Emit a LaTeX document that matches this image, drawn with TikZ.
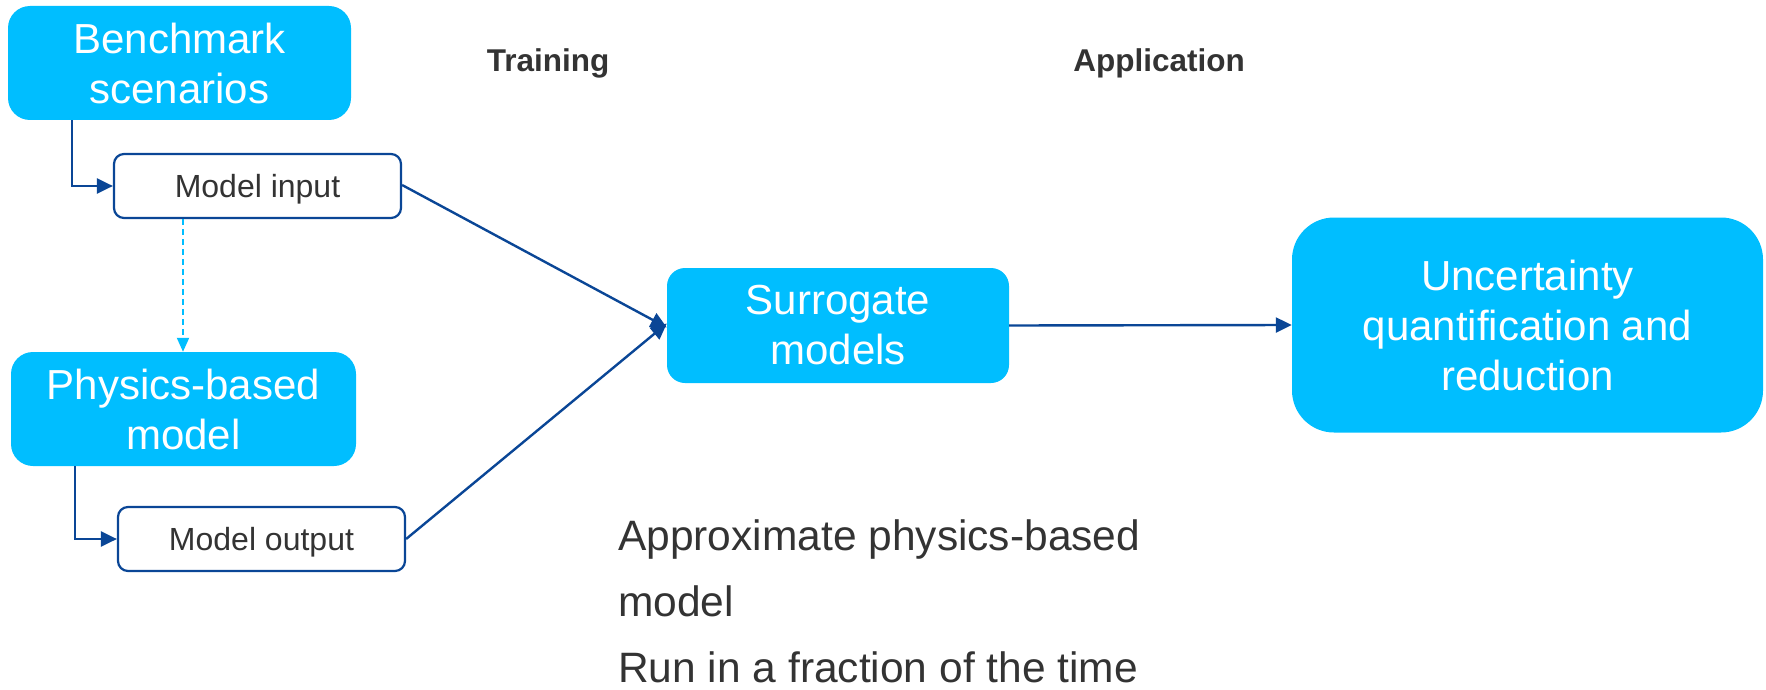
\documentclass[tikz,border=0pt]{standalone}
\usepackage{fontspec}
\setmainfont{Liberation Sans}
\usetikzlibrary{arrows.meta}
\definecolor{cyanbox}{RGB}{0,190,255}
\definecolor{darkblue}{RGB}{10,70,150}
\definecolor{txtgray}{RGB}{51,51,51}
\tikzset{
  bigbox/.style={fill=cyanbox, draw=none, text=white, align=center, inner sep=0pt,
    font=\fontsize{42}{50}\selectfont},
  smallbox/.style={fill=white, draw=darkblue, line width=2.2pt, rounded corners=10pt,
    text=txtgray, inner sep=0pt, minimum width=287pt, minimum height=64pt,
    text depth=0pt, font=\fontsize{32}{38}\selectfont},
  arr/.style={draw=darkblue, line width=2.4pt, -{Triangle[length=16pt,width=15pt]}},
  dasharr/.style={draw=cyanbox, line width=2pt, dash pattern=on 6pt off 4pt,
    -{Triangle[length=14pt,width=12pt]}},
  headtxt/.style={text=txtgray, font=\fontsize{31.5}{37}\selectfont\bfseries, inner sep=0pt}
}
\begin{document}
\begin{tikzpicture}[x=1pt,y=-1pt]
\useasboundingbox (0,0) rectangle (1766,690);
\node[bigbox, rounded corners=22pt, minimum width=343pt, minimum height=114pt] (bench) at (179.5,63) {Benchmark\\scenarios};
\node[smallbox] (min) at (257.5,186) {Model input};
\node[bigbox, rounded corners=22pt, minimum width=345pt, minimum height=114pt] (phys) at (183.5,409) {Physics-based\\model};
\node[smallbox] (mout) at (261.5,539) {Model output};
\node[bigbox, rounded corners=18pt, minimum width=342pt, minimum height=115pt] (surr) at (838,325.5) {Surrogate\\models};
\node[bigbox, rounded corners=42pt, minimum width=471pt, minimum height=215pt] (uq) at (1527.5,325) {Uncertainty\\quantification and\\reduction};
\node[headtxt] (train) at (548,63) {Training};
\node[headtxt] (appl) at (1159,63) {Application};
\node[text=txtgray, anchor=base west, align=left, inner sep=0pt,
  font=\fontsize{42.5}{66}\selectfont] (desc) at (618,682) {Approximate physics-based\\model\\Run in a fraction of the time};
\draw[arr] ([xshift=-107.5pt]bench.south) |- (min.west);
\draw[arr] ([xshift=-108.5pt]phys.south) |- (mout.west);
\draw[dasharr] ([xshift=-74.5pt]min.south) -- ([xshift=-74.5pt]min.south |- phys.north);
\draw[arr] ([yshift=1pt]min.east) -- ([yshift=-2pt]surr.west);
\draw[arr] (mout.east) -- ([yshift=2pt]surr.west);
\draw[arr] (surr.east) -- (uq.west);
\end{tikzpicture}
\end{document}
